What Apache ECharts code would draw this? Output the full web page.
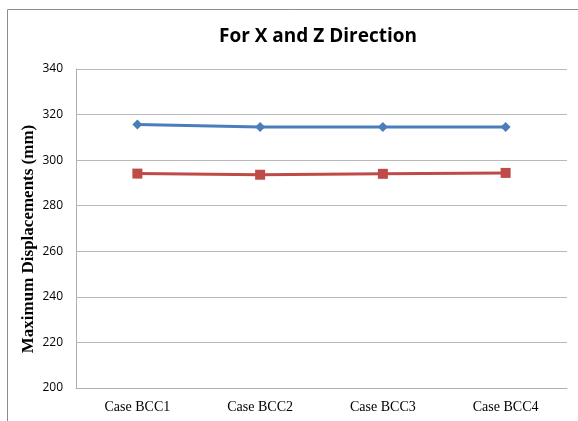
<!DOCTYPE html>
<html><head><meta charset="utf-8">
<script src="https://cdn.jsdelivr.net/npm/echarts@6/dist/echarts.min.js"></script>
<style>html,body{margin:0;padding:0;background:#fff}#c{width:578px;height:421px}</style>
</head><body><div id="c"></div>
<script>
const categories = ["Case BCC1", "Case BCC2", "Case BCC3", "Case BCC4"];
const seriesBlue = [315.6, 314.5, 314.5, 314.6];
const seriesRed = [294.1, 293.6, 294.0, 294.4];
const yTicks = [200, 220, 240, 260, 280, 300, 320, 340];
const titleText = "For X and Z Direction";
const yTitle = "Maximum Displacements (mm)";

const chart = echarts.init(document.getElementById('c'), null, {renderer: 'canvas'});
chart.setOption({
  animation: false,
  backgroundColor: '#fff',
  title: {
    text: titleText, left: 313, top: 22, textAlign: 'center',
    textStyle: {fontFamily: 'Open Sans', fontWeight: 'bold', fontSize: 19, color: '#000'}
  },
  grid: {left: 76, right: 11, top: 69, bottom: 33, containLabel: false},
  xAxis: {
    type: 'category', data: categories, boundaryGap: true,
    axisLine: {lineStyle: {color: '#b0b0b0', width: 1}},
    axisTick: {show: false},
    axisLabel: {fontFamily: 'Liberation Serif', fontSize: 14, color: '#000', margin: 12}
  },
  yAxis: {
    type: 'value', min: yTicks[0], max: yTicks[yTicks.length - 1], interval: 20,
    axisLine: {show: true, lineStyle: {color: '#b0b0b0', width: 1}},
    axisTick: {show: false},
    splitLine: {lineStyle: {color: '#b8b8b8', width: 1}},
    axisLabel: {fontFamily: 'Open Sans', fontSize: 12, color: '#000', margin: 13}
  },
  graphic: [
    {type: 'rect', shape: {x: 7.5, y: 9.5, width: 600, height: 500},
     style: {fill: 'none', stroke: '#8c8c8c', lineWidth: 1}, silent: true, z: -1},
    {type: 'text', x: 29, y: 239, rotation: Math.PI / 2,
     style: {text: yTitle, fontFamily: 'Liberation Serif', fontWeight: 'bold', fontSize: 17,
             fill: '#000', align: 'center', verticalAlign: 'middle'}}
  ],
  series: [
    {type: 'line', data: seriesBlue, symbol: 'diamond', symbolSize: 10,
     lineStyle: {color: '#4a7ebb', width: 3}, itemStyle: {color: '#4a7ebb'}},
    {type: 'line', data: seriesRed, symbol: 'rect', symbolSize: 10,
     lineStyle: {color: '#be4b48', width: 3}, itemStyle: {color: '#be4b48'}}
  ]
});
</script></body></html>
